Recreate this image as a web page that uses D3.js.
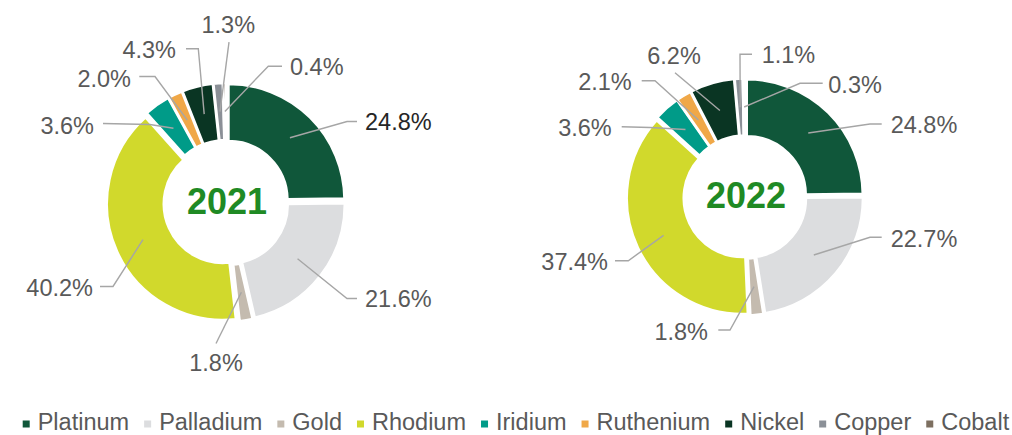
<!DOCTYPE html>
<html>
<head>
<meta charset="utf-8">
<script src="https://cdn.jsdelivr.net/npm/d3@7"></script>
<style>
  body { margin: 0; background: #ffffff; }
  svg { display: block; }
  text { font-family: "Liberation Sans", Arial, Helvetica, sans-serif; }
</style>
</head>
<body>
<svg id="chart" width="1012" height="435"></svg>
<script>
// ---- data ----
const categories = ["Platinum", "Palladium", "Gold", "Rhodium", "Iridium", "Ruthenium", "Nickel", "Copper", "Cobalt"];
const years = ["2021", "2022"];
const values2021 = [24.8, 21.6, 1.8, 40.2, 3.6, 2.0, 4.3, 1.3, 0.4];
const values2022 = [24.8, 22.7, 1.8, 37.4, 3.6, 2.1, 6.2, 1.1, 0.3];
const colors = ["#10573a", "#dcdddf", "#c4bbaf", "#d1d92c", "#009b88", "#f0a848", "#0a3523", "#8b9097", "#7d6f60"];

// ---- label placement (relative to each donut centre) ----
const labelLayout2021 = [
  { elbow: [121, -81],     end: [131, -81],     text: [139, -72.7],   anchor: "start",  dark: true },
  { elbow: [121, 96],      end: [131, 96],      text: [139, 104.7],   anchor: "start" },
  { elbow: [-10, 141],     end: [-10, 141],     text: [-10, 168.7],   anchor: "middle" },
  { elbow: [-113, 84],     end: [-126, 84],     text: [-133, 93],     anchor: "end" },
  { elbow: [-76, -78],     end: [-123, -79],    text: [-132, -68.7],  anchor: "end" },
  { elbow: [-71, -126],    end: [-86.7, -126],  text: [-95, -116],    anchor: "end" },
  { elbow: [-27.7, -153.7],end: [-40, -153.7],  text: [-50, -144.7],  anchor: "end" },
  { elbow: [3, -160.3],    end: [3, -160.3],    text: [2.3, -169.7],  anchor: "middle" },
  { elbow: [42.3, -136.3], end: [56, -136.3],   text: [64, -128],     anchor: "start" }
];
const labelLayout2022 = [
  { elbow: [125, -73],     end: [136.7, -73],   text: [145.7, -63.7], anchor: "start" },
  { elbow: [125, 40.3],    end: [136.7, 40.3],  text: [145.7, 49.7],  anchor: "start" },
  { elbow: [-15, 133],     end: [-26.7, 133],   text: [-37, 143],     anchor: "end" },
  { elbow: [-116.7, 63.7], end: [-130, 63.7],   text: [-137, 73],     anchor: "end" },
  { elbow: [-95, -69.5],   end: [-123.3, -70.3],text: [-133.3, -61],  anchor: "end" },
  { elbow: [-90, -116.3],  end: [-103.3, -116.3],text: [-113.3, -107],anchor: "end" },
  { elbow: [-70, -124.3],  end: [-70, -124.3],  text: [-71, -133],    anchor: "middle" },
  { elbow: [-5, -142.7],   end: [7, -142.7],    text: [16.7, -133.7], anchor: "start" },
  { elbow: [55, -113.7],   end: [77.7, -113.7], text: [83.3, -103.7], anchor: "start" }
];

const donuts = [
  { year: years[0], values: values2021, layout: labelLayout2021, cx: 226, cy: 202.5, explode: 3.5 },
  { year: years[1], values: values2022, layout: labelLayout2022, cx: 745, cy: 197, explode: 2.5 }
];

const outerR = 116, innerR = 59;
const labelFont = 23.5;

const svg = d3.select("#chart");
const color = d3.scaleOrdinal().domain(categories).range(colors);
const pct = v => d3.format(".1f")(v) + "%";

const pie = d3.pie().sort(null).value(d => d.value).startAngle(0).endAngle(2 * Math.PI);
const arc = d3.arc().innerRadius(innerR).outerRadius(outerR);

donuts.forEach(dn => {
  const rows = categories.map((c, i) => ({ name: c, value: dn.values[i] }));
  const arcs = pie(rows);
  const g = svg.append("g").attr("transform", `translate(${dn.cx},${dn.cy})`);

  const offset = d => {
    const mid = (d.startAngle + d.endAngle) / 2;
    return [dn.explode * Math.sin(mid), -dn.explode * Math.cos(mid)];
  };

  // slices, each pushed out a little along its bisector
  g.selectAll("path.slice")
    .data(arcs)
    .join("path")
    .attr("class", "slice")
    .attr("d", arc)
    .attr("transform", d => `translate(${offset(d)})`)
    .attr("fill", d => color(d.data.name))
    .attr("stroke", "#ffffff")
    .attr("stroke-width", 2.5)
    .attr("stroke-linejoin", "miter");

  // leader lines
  g.selectAll("path.leader")
    .data(arcs)
    .join("path")
    .attr("class", "leader")
    .attr("fill", "none")
    .attr("stroke", "#a6a6a6")
    .attr("stroke-width", 1.4)
    .attr("d", (d, i) => {
      const c = arc.centroid(d);
      const o = offset(d);
      const L = dn.layout[i];
      return d3.line()([[c[0] + o[0], c[1] + o[1]], L.elbow, L.end]);
    });

  // value labels
  g.selectAll("text.value")
    .data(arcs)
    .join("text")
    .attr("class", "value")
    .attr("x", (d, i) => dn.layout[i].text[0])
    .attr("y", (d, i) => dn.layout[i].text[1])
    .attr("text-anchor", (d, i) => dn.layout[i].anchor)
    .attr("font-size", labelFont)
    .attr("fill", (d, i) => dn.layout[i].dark ? "#262626" : "#595959")
    .text(d => pct(d.data.value));

  // year in the hole
  g.append("text")
    .attr("x", 1)
    .attr("y", 11)
    .attr("text-anchor", "middle")
    .attr("font-size", 36)
    .attr("font-weight", "bold")
    .attr("fill", "#1f8a24")
    .text(dn.year);
});

// legend along the bottom
const legend = svg.append("g");
let lx = 22.7;
categories.forEach(c => {
  legend.append("rect")
    .attr("x", lx).attr("y", 420.5)
    .attr("width", 7).attr("height", 7)
    .attr("fill", color(c));
  const t = legend.append("text")
    .attr("x", lx + 15).attr("y", 430)
    .attr("font-size", labelFont)
    .attr("fill", "#595959")
    .text(c);
  lx = lx + 15 + t.node().getComputedTextLength() + 15;
});
</script>
</body>
</html>
